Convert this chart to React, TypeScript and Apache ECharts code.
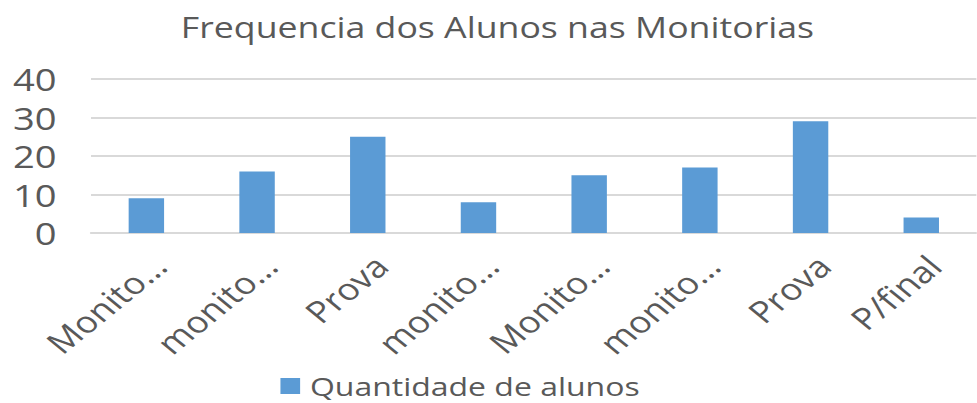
import React, { useEffect, useRef } from "react";
import * as echarts from "echarts";

const titleText = "Frequencia dos Alunos nas Monitorias";
const categories = ["Monito…", "monito…", "Prova", "monito…", "Monito…", "monito…", "Prova", "P/final"];
const seriesName = "Quantidade de alunos";
const values = [9, 16, 25, 8, 15, 17, 29, 4];
const yTicks = [0, 10, 20, 30, 40];

const FONT = "'Open Sans', 'Noto Sans', sans-serif";
const TEXT = "#595959";
const STRETCH = 1.23;
const OUT_W = 977;
const OUT_H = 403;
const INNER_W = Math.round(OUT_W / STRETCH);

export default function App() {
  const ref = useRef<HTMLDivElement>(null);
  useEffect(() => {
    if (!ref.current) return;
    const chart = echarts.init(ref.current, undefined, { renderer: "svg" });
    chart.setOption({
      animation: false,
      backgroundColor: "#ffffff",
      title: {
        text: titleText,
        left: 142,
        top: 7,
        textStyle: { fontFamily: FONT, fontSize: 29, fontWeight: "normal", color: TEXT },
      },
      legend: {
        data: [seriesName],
        left: 223,
        top: 368,
        icon: "rect",
        itemWidth: 16,
        itemHeight: 16,
        itemGap: 10,
        textStyle: { fontFamily: FONT, fontSize: 26, color: TEXT, padding: [0, 0, 0, 3] },
      },
      grid: { left: 74, right: 0, top: 79, bottom: 170, containLabel: false },
      xAxis: {
        type: "category",
        data: categories,
        axisLine: { show: true, lineStyle: { color: "#d9d9d9", width: 2 } },
        axisTick: { show: false },
        axisLabel: {
          rotate: 45,
          margin: 17,
          verticalAlign: "top",
          fontFamily: FONT,
          fontSize: 30,
          color: TEXT,
          interval: 0,
        },
      },
      yAxis: {
        type: "value",
        min: yTicks[0],
        max: yTicks[yTicks.length - 1],
        interval: 10,
        axisLine: { show: false },
        axisTick: { show: false },
        splitLine: { lineStyle: { color: "#d9d9d9", width: 2 } },
        axisLabel: { fontFamily: FONT, fontSize: 31, color: TEXT, margin: 28 },
      },
      series: [
        {
          name: seriesName,
          type: "bar",
          data: values,
          barWidth: "32%",
          itemStyle: { color: "#5b9bd5" },
        },
      ],
    });
    return () => chart.dispose();
  }, []);
  return (
    <div
      style={{
        position: "absolute",
        left: 0,
        top: 0,
        width: OUT_W,
        height: OUT_H,
        overflow: "hidden",
        background: "#ffffff",
      }}
    >
      <div
        ref={ref}
        style={{
          width: INNER_W,
          height: OUT_H,
          transform: `scaleX(${STRETCH})`,
          transformOrigin: "0 0",
        }}
      />
    </div>
  );
}
